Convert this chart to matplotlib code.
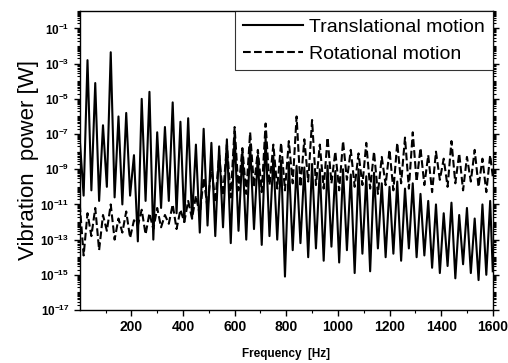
import numpy as np
import matplotlib
matplotlib.use("Agg")
import matplotlib.pyplot as plt
from matplotlib.ticker import FixedLocator, LogLocator, NullFormatter, LogFormatterSciNotation

plt.rcParams['font.family'] = ['Liberation Sans', 'DejaVu Sans']

freq = [0, 15, 30, 45, 60, 75, 90, 105, 120, 135, 150, 165, 180, 195, 210, 225,
        240, 255, 270, 285, 300, 315, 330, 345, 360, 375, 390, 405, 420, 435,
        450, 465, 480, 495, 510, 525, 540, 555, 570, 585, 600, 615, 630, 645,
        660, 675, 690, 705, 720, 735, 750, 765, 780, 795, 810, 825, 840, 855,
        870, 885, 900, 915, 930, 945, 960, 975, 990, 1005, 1020, 1035, 1050,
        1065, 1080, 1095, 1110, 1125, 1140, 1155, 1170, 1185, 1200, 1215, 1230,
        1245, 1260, 1275, 1290, 1305, 1320, 1335, 1350, 1365, 1380, 1395, 1410,
        1425, 1440, 1455, 1470, 1485, 1500, 1515, 1530, 1545, 1560, 1575, 1590,
        1600]

# log10 of vibration power [W]
translational_log = [
    -7.3, -10.5, -2.8, -10.2, -4.1, -10.8, -6.5, -10.0, -2.35, -10.6,
    -6.0, -11.0, -5.8, -10.5, -8.2, -13.1, -5.0, -10.8, -4.6, -13.0,
    -6.9, -11.2, -6.6, -10.8, -5.2, -11.5, -6.3, -12.0, -6.1, -11.8,
    -7.6, -12.6, -6.7, -12.2, -7.5, -12.8, -7.7, -12.3, -7.3, -13.2,
    -7.0, -12.5, -8.0, -13.0, -7.6, -12.4, -8.2, -13.3, -7.2, -12.8,
    -8.3, -13.0, -8.5, -15.1, -8.6, -13.6, -8.8, -13.2, -8.9, -14.0,
    -8.7, -13.5, -9.0, -14.2, -8.8, -13.4, -9.1, -14.3, -9.0, -13.6,
    -9.3, -14.9, -9.0, -13.8, -9.4, -14.8, -9.2, -13.5, -9.8, -14.0,
    -10.0, -13.8, -9.7, -14.2, -10.1, -13.5, -9.8, -14.0, -10.4, -13.9,
    -10.8, -14.6, -11.0, -14.9, -11.5, -14.5, -10.9, -15.2, -11.6, -14.4,
    -11.2, -14.9, -11.8, -15.3, -11.0, -15.0, -10.8, -14.8]

rotational_log = [
    -11.0, -13.9, -11.5, -12.8, -11.2, -13.6, -11.6, -12.5, -11.0, -13.0,
    -11.8, -12.6, -11.4, -12.9, -11.9, -12.2, -11.3, -12.7, -11.5, -12.4,
    -11.2, -12.3, -11.6, -12.1, -11.0, -12.4, -11.3, -12.0, -10.8, -11.8,
    -10.5, -11.6, -9.5, -11.2, -8.8, -10.9, -8.2, -10.5, -7.6, -10.6,
    -6.6, -10.2, -7.8, -10.4, -6.9, -10.0, -7.9, -10.3, -6.4, -9.9,
    -7.6, -10.1, -7.5, -10.2, -7.4, -9.8, -6.0, -10.0, -7.3, -9.7,
    -6.2, -9.9, -7.6, -10.1, -7.2, -9.8, -8.0, -10.2, -7.4, -9.6,
    -7.9, -10.0, -8.1, -9.9, -7.5, -10.1, -8.0, -10.4, -8.3, -9.9,
    -7.9, -10.2, -7.5, -9.8, -7.2, -10.1, -6.9, -9.7, -7.8, -9.9,
    -8.2, -10.3, -8.0, -9.6, -8.4, -10.0, -7.4, -9.8, -8.1, -10.2,
    -8.3, -9.7, -7.9, -10.0, -8.4, -10.3, -8.2, -9.4]

x_ticks = [200, 400, 600, 800, 1000, 1200, 1400, 1600]
y_tick_exps = [-17, -15, -13, -11, -9, -7, -5, -3, -1]

translational = 10.0 ** np.array(translational_log)
rotational = 10.0 ** np.array(rotational_log)

fig = plt.figure(figsize=(5.08, 3.63), dpi=100)
ax = fig.add_axes([0.157, 0.146, 0.813, 0.824])

ax.plot(freq, translational, color='black', lw=1.5, ls='-', label='Translational motion')
ax.plot(freq, rotational, color='black', lw=1.5, ls='--', label='Rotational motion')

ax.set_yscale('log')
ax.set_xlim(0, 1600)
ax.set_ylim(1e-17, 1e0)

ax.xaxis.set_major_locator(FixedLocator(x_ticks))
ax.xaxis.set_minor_locator(FixedLocator([100, 300, 500, 700, 900, 1100, 1300, 1500]))
ax.yaxis.set_major_locator(FixedLocator([10.0 ** e for e in y_tick_exps]))
ax.yaxis.set_major_formatter(LogFormatterSciNotation())
ax.yaxis.set_minor_locator(LogLocator(base=10, subs=np.arange(1, 10), numticks=100))
ax.yaxis.set_minor_formatter(NullFormatter())

ax.tick_params(axis='both', which='major', direction='out', length=4, width=1,
               labelsize=10)
ax.tick_params(axis='both', which='minor', direction='out', length=2.5, width=0.8)
ax.tick_params(axis='y', which='both', right=True, labelright=False)
for lab in ax.get_xticklabels():
    lab.set_fontweight('bold')
for lab in ax.get_yticklabels():
    lab.set_fontsize(8.5)
    lab.set_fontweight('bold')

for sp in ax.spines.values():
    sp.set_linewidth(1.0)

ax.set_xlabel('Frequency  [Hz]', fontsize=8.5, fontweight='bold', labelpad=10)
ax.set_ylabel('Vibration  power [W]', fontsize=16, labelpad=1)

leg = ax.legend(loc='upper right', fontsize=14, frameon=True, fancybox=False,
                edgecolor='black', borderaxespad=0.0, handlelength=3.1,
                borderpad=0.4, labelspacing=0.45, handletextpad=0.3)
leg.get_frame().set_linewidth(0.8)

fig.savefig('out.png', dpi=100)
